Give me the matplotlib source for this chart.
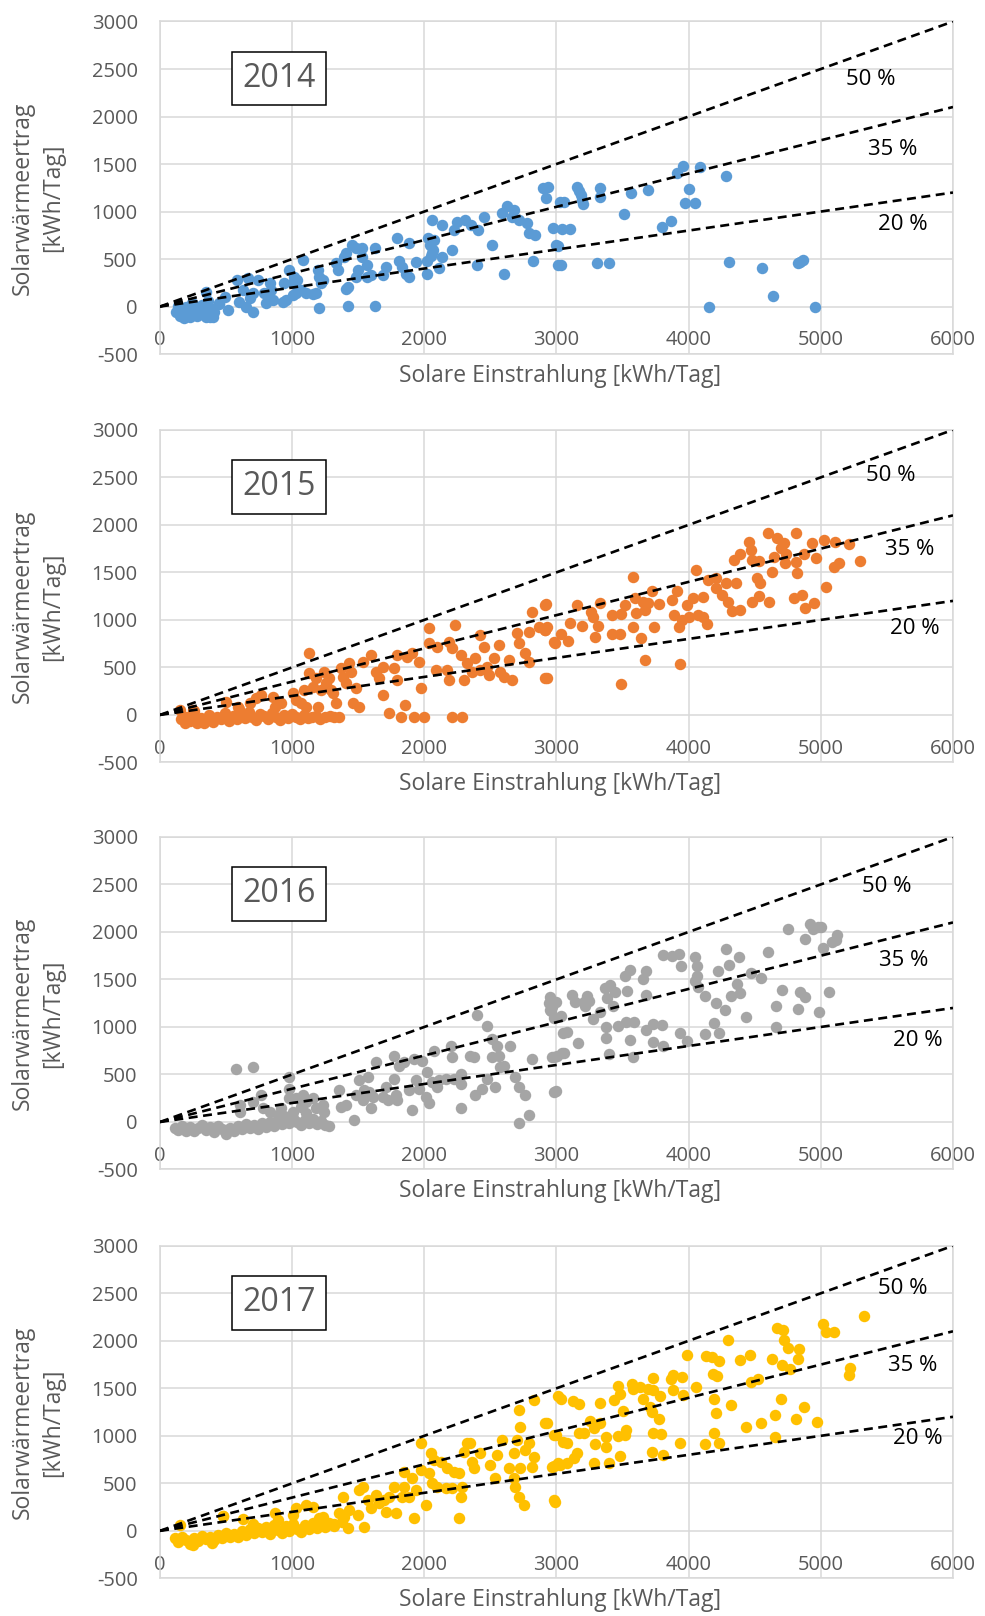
import numpy as np
import matplotlib.pyplot as plt

plt.rcParams['font.family'] = ['Open Sans', 'DejaVu Sans']
plt.rcParams['axes.unicode_minus'] = False

years = ['2014', '2015', '2016', '2017']
colors = ['#5B9BD5', '#ED7D31', '#A5A5A5', '#FFC000']
rates = [0.50, 0.35, 0.20]
rate_labels = ['50 %', '35 %', '20 %']

# daily values: solar irradiation (x) vs. solar heat yield (y), kWh/day
x14 = [125, 150, 170, 190, 210, 230, 250, 270, 290, 310, 330, 350, 380, 410, 140, 200, 260, 320, 180, 240,
       300, 360, 400, 450, 160, 220, 280, 340,
       350, 450, 490, 515, 375, 580, 600, 628, 650, 665, 680, 705, 705, 740, 790, 805, 815, 830, 840, 855,
       930, 940, 955, 980, 1005, 1005, 1015, 1030, 1040, 1070, 1080, 1105, 1155, 1180, 1195, 1205, 1205,
       1220, 1230, 1330, 1345, 1395, 1405, 1405, 1420, 1425, 1455, 1480, 1480, 1495, 1530, 1530, 1570,
       1570, 1595, 1625, 1630, 1685, 1710, 1795, 1810, 1835, 1860, 1885, 1885, 1935, 2020, 2030, 2045,
       2055, 2060, 2065, 2070, 2050, 2020, 2110, 2135, 2135, 2210, 2225, 2250, 2310, 2350, 2400, 2410,
       2450, 2510, 2590, 2600, 2625, 2665, 2675, 2715, 2775, 2790, 2825, 2840, 2900, 2920, 2935, 2975,
       3000, 3015, 3030, 3040, 3058, 3100, 3033, 3015, 3158, 3170, 3183, 3195, 3203, 3308, 3328, 3333,
       3400, 3508, 3565, 3690, 3800, 3870, 3915, 3958, 3970, 4000, 4045, 4088, 4153, 4283, 4303, 4558,
       4638, 4828, 4845, 4865, 4953]
y14 = [-60, -100, -30, -80, -20, -110, -50, -90, -10, -70, -40, -115, -20, -60, 10, -5, -30, 20, -120, 40,
       -80, 60, -105, 30, -50, -70, -100, -60,
       158, 35, 105, -35, -105, 281, 53, 175, 0, 298, 88, 140, -53, 281, 140, 35, 105, 246, 175, 70,
       53, 246, 70, 386, 246, 123, 316, 140, 281, 175, 491, 147, 130, 140, 386, 316, -18,
       246, 281, 456, 386, 526, 561, 182, 210, 7, 649, 614, 316, 386, 614, 526, 439,
       316, 333, 7, 614, 333, 421, 719, 475, 421, 340, 315, 667, 474, 480, 720, 650,
       560, 912, 600, 700, 530, 340, 410, 526, 860, 596, 807, 895, 912, 860, 439, 807,
       940, 649, 982, 340, 1060, 947, 1018, 912, 877, 772, 480, 754, 1245, 1140, 1263, 825,
       649, 439, 1105, 814, 1105, 814, 439, 642, 1263, 1221, 1175, 1123, 1081, 456, 1158, 1246,
       456, 975, 1200, 1228, 832, 905, 1404, 1481, 1095, 1235, 1095, 1467, 0, 1376, 474, 404,
       116, 456, 474, 491, 0]

x15 = [160, 200, 230, 250, 280, 310, 340, 370, 400, 430, 460, 490, 520, 550, 580, 610, 640, 670, 700, 730,
       760, 790, 820, 850, 880, 910, 940, 970, 1000, 1030, 1060, 1090, 1120, 1150, 1180, 1210, 1250, 1290,
       1320, 1357, 190, 330, 260, 600, 150, 251,
       503, 591, 679, 729, 766, 854, 867, 917, 1005, 1030, 1068, 1093, 1106, 1131, 1131, 1156, 1181, 1194,
       1219, 1244, 1257, 1282, 1294, 1307, 1332, 1370, 1382, 1407, 1432, 1445, 1458, 1483, 1508, 1533,
       1596, 1634, 1659, 1684, 1684, 1734, 1772, 1797, 1797, 1822, 1855, 1872, 1910, 1922, 1960, 1972,
       1997, 2036, 2036, 2098, 2086, 2174, 2186, 2186, 2211, 2236, 2211, 2274, 2287, 2299, 2324, 2362,
       2387, 2424, 2424, 2450, 2475, 2487, 2525, 2563, 2576, 2601, 2639, 2664, 2702, 2714, 2764, 2789,
       2789, 2814, 2865, 2915, 2915, 2915, 2978,
       2920, 2925, 2912, 2930, 2987, 3038, 3088, 3106, 3156, 3193, 3264, 3276, 3294, 3314, 3327, 3422,
       3422, 3485, 3478, 3485, 3515, 3580, 3580, 3596, 3603, 3640, 3653, 3666, 3666, 3690, 3720, 3736,
       3779, 3875, 3892, 3912, 3930, 3935, 3950, 3985, 4005, 4035, 4055, 4068, 4106, 4111, 4138, 4150,
       4206, 4206, 4250, 4282, 4294, 4326, 4344, 4359, 4392, 4392, 4460, 4470, 4476, 4476, 4514, 4530,
       4532, 4538, 4601, 4608, 4633, 4649, 4671, 4696, 4721, 4729, 4734, 4796, 4810, 4814, 4820, 4860,
       4872, 4877, 4930, 4947, 4960, 5023, 5040, 5098, 5110, 5136, 5211, 5294]
y15 = [-40, -20, -60, 10, -80, -30, -50, 0, -70, -20, -40, 20, -60, -10, -40, 0, -30, 30, -20, -50,
       10, -10, -40, 20, -20, -50, 0, -30, 10, -20, -40, 0, -30, -20, -10, -40, -20, -10,
       -20, -20, -90, -80, 40, 60, 53, 53,
       140, 88, 123, 175, 211, 193, 88, 123, 228, 158, 123, 263, 88, 649, 439, 298, 386, 88,
       263, 456, 333, 386, 263, 228, 123, 491, 404, 333, 544, 456, 123, 281, 88, 561,
       632, 456, 386, 509, 211, 18, 491, 368, 632, -18, 105, 614, 649, -18, 561, 281,
       -18, 912, 754, 719, 474, 474, 368, 772, -18, 947, 702, 632, -18, 368, 544, 456,
       596, 474, 842, 719, 509, 421, 596, 737, 456, 404, 579, 368, 860, 754, 649, 877,
       561, 1088, 930, 1158, 895, 386, 772,
       1168, 930, 895, 386, 761, 853, 782, 972, 1158, 940, 1088, 1028, 825, 940, 1182, 1053,
       853, 1060, 853, 326, 1158, 1456, 930, 1228, 1070, 807, 1193, 579, 1105, 1175, 1309, 930,
       1165, 1210, 1053, 1309, 930, 537, 1000, 1158, 1035, 1228, 1526, 1053, 1035, 1239, 958, 1421,
       1439, 1333, 1263, 1393, 1193, 1098, 1632, 1386, 1105, 1695, 1825, 1737, 1632, 1193, 1439, 1625,
       1253, 1386, 1912, 1193, 1509, 1660, 1860, 1755, 1814, 1597, 1695, 1228, 1614, 1912, 1491, 1263,
       1695, 1123, 1814, 1182, 1649, 1842, 1351, 1554, 1818, 1604, 1797, 1621]

x16 = [110, 140, 170, 200, 230, 260, 290, 320, 350, 380, 410, 440, 470, 500, 530, 560, 590, 620, 650, 680,
       710, 740, 770, 800, 830, 860, 890, 920, 950, 980, 1010, 1040, 1070, 1100, 1130, 1160, 1190, 1220,
       1250, 1280,
       578, 704, 603, 603, 704, 766, 779, 829, 892, 980, 980, 980, 1030, 1081, 1106, 1156, 1181, 1231,
       1244, 1005, 1068, 1106, 917, 942, 1357, 1370, 1407, 1470, 1483, 1508, 1533, 1546, 1571, 1584,
       1596, 1609, 1634, 1684, 1709, 1722, 1772, 1772, 1785, 1797, 1810, 1847, 1885, 1910, 1922, 1935,
       1960, 1985, 2010, 2023, 2036, 2061, 2074, 2098, 2111, 2161, 2199, 2211, 2224, 2274, 2274, 2274,
       2349, 2374, 2400, 2387, 2437, 2475, 2475, 2512, 2512, 2538, 2550, 2563, 2576, 2601, 2651, 2689,
       2714, 2764, 2714, 2789, 2814, 2940, 2953, 2978, 2965, 2978, 3003, 3040, 3053,
       2950, 2967, 3000, 2955, 3035, 3080, 3161, 2980, 3055, 2997, 3118, 3143, 3206, 3231, 3243, 3218,
       3276, 3331, 3369, 3381, 3406, 3444, 3431, 3374, 3374, 3394, 3462, 3520, 3532, 3527, 3557, 3587,
       3557, 3577, 3657, 3678, 3678, 3678, 3733, 3728, 3796, 3803, 3803, 3871, 3929, 3941, 3934, 3984,
       4047, 4065, 4060, 4047, 4067, 4127, 4127, 4190, 4210, 4230, 4222, 4278, 4283, 4303, 4320, 4365,
       4382, 4390, 4432, 4470, 4550, 4603, 4663, 4663, 4709, 4751, 4829, 4839, 4879, 4884, 4919, 4944,
       4975, 5005, 4988, 5018, 5063, 5088, 5113, 5126]
y16 = [-60, -80, -40, -90, -50, -100, -60, -30, -80, -50, -110, -40, -70, -130, -60, -90, -40, -70, -20, -60,
       -30, -70, -10, -50, 0, -40, 20, -20, 30, -10, 40, 0, -30, 20, -10, 30, -20, 10,
       -30, -40,
       559, 576, 179, 110, 214, 283, 145, 110, 76, 473, 352, 248, 248, 283, 214, 248, 145, 179,
       110, 110, 162, 93, 145, 59, 335, 162, 179, 24, 283, 438, 231, 335, 473, 317,
       145, 266, 628, 266, 369, 231, 455, 697, 283, 231, 593, 628, 335, 128, 662, 438,
       352, 645, 266, 524, 197, 421, 749, 369, 438, 455, 800, 680, 455, 145, 507, 404,
       697, 680, 1128, 283, 352, 1007, 455, 869, 680, 369, 800, 697, 576, 593, 800, 473,
       369, 283, -10, 76, 662, 1249, 1180, 1094, 680, 317, 697, 731, 938,
       1312, 1207, 1260, 1172, 1112, 944, 832, 682, 727, 321, 1336, 1259, 1266, 1329, 1277, 1224,
       1084, 1154, 1406, 1301, 1441, 1364, 1217, 997, 881, 717, 1014, 1539, 1382, 1056, 1602, 1049,
       864, 689, 1504, 1592, 1336, 969, 1032, 839, 1025, 804, 1756, 1742, 1767, 1644, 937, 857,
       1732, 1644, 1539, 1487, 1417, 1322, 927, 1039, 1249, 937, 1592, 1182, 1819, 1651, 1329, 1452,
       1732, 1357, 1109, 1567, 1511, 1784, 1224, 1004, 1392, 2036, 1189, 1371, 1931, 1312, 2082, 2036,
       2057, 2047, 1161, 1826, 1364, 1889, 1917, 1966]

x17 = [110, 140, 170, 200, 230, 260, 290, 320, 350, 380, 410, 440, 470, 500, 530, 560, 590, 620, 650, 680,
       710, 740, 770, 800, 830, 860, 890, 920, 950, 980, 1010, 1040, 1070, 1100, 1130, 1160, 1190, 1220,
       1250, 1280, 1320, 1380, 1420, 250, 390, 480,
       151, 477, 628, 704, 867, 892, 1005, 1030, 1106, 1156, 1206, 1231, 1319, 1357, 1382, 1395, 1432,
       1495, 1508, 1533, 1546, 1571, 1596, 1634, 1659, 1696, 1709, 1734, 1772, 1785, 1835, 1847, 1847,
       1885, 1910, 1922, 1935, 1972, 1972, 2010, 2036, 2048, 2061, 2074, 2098, 2124, 2161, 2174, 2211,
       2224, 2261, 2261, 2274, 2287, 2299, 2324, 2349, 2362, 2374, 2424, 2500, 2538, 2550, 2588, 2639,
       2677, 2677, 2689, 2714, 2714, 2727, 2727, 2752, 2702, 2764, 2789, 2814, 2827, 2827, 2915, 2978,
       2978, 2965, 3015, 3015, 3053,
       2930, 3000, 3035, 3080, 3125, 3168, 3156, 2980, 3030, 3080, 3131, 2992, 3168, 3206, 3256, 3281,
       3326, 3331, 3294, 3374, 3374, 3281, 3394, 3437, 3462, 3469, 3482, 3500, 3477, 3519, 3527, 3570,
       3582, 3632, 3657, 3695, 3733, 3733, 3708, 3720, 3783, 3778, 3733, 3788, 3720, 3803, 3866, 3883,
       3883, 3946, 3959, 3934, 3990, 4055, 4130, 4178, 4231, 4185, 4218, 4190, 4210, 4190, 4231, 4127,
       4298, 4323, 4386, 4461, 4436, 4473, 4524, 4544, 4629, 4654, 4654, 4669, 4712, 4707, 4724, 4749,
       4699, 4769, 4828, 4835, 4815, 4875, 4970, 5020, 5038, 5100, 5211, 5224, 5324]
y17 = [-80, -120, -60, -100, -140, -80, -110, -50, -90, -60, -100, -40, -80, -20, -60, -30, -70, 0, -40, 20,
       -20, 30, -10, 40, -30, 60, 10, -20, 50, 0, 70, 20, -10, 60, 20, 80, 30, 100,
       40, 80, 50, 90, 30, -150, -130, 160,
       60, 155, 120, 77, 190, 113, 165, 236, 271, 253, 130, 148, 77, 183, 359, 148, 218,
       165, 429, 465, 42, 324, 236, 377, 289, 324, 201, 359, 465, 183, 359, 465, 623,
       359, 553, 130, 429, 922, 641, 271, 605, 817, 500, 746, 465, 729, 447, 658, 447,
       623, 605, 130, 359, 465, 834, 922, 922, 729, 658, 817, 693, 553, 799, 957, 658,
       553, 817, 465, 359, 1274, 1098, 658, 271, 957, 852, 922, 676, 781, 1380, 1133, 324,
       1010, 676, 711, 1415, 940,
       1130, 1007, 1392, 927, 1364, 1340, 822, 682, 692, 717, 762, 307, 1032, 1032, 1154, 1077,
       1347, 1137, 909, 878, 990, 710, 710, 1382, 1000, 1522, 1438, 1263, 787, 1007, 1060, 1550,
       1497, 1515, 1392, 1497, 1609, 1487, 1305, 1252, 1417, 1182, 1025, 1018, 832, 797, 1602, 1644,
       1487, 1620, 1427, 927, 1854, 1515, 1837, 1830, 1788, 1648, 1627, 1392, 1235, 1032, 927, 913,
       2012, 1322, 1802, 1847, 1095, 1567, 1602, 1137, 1812, 1217, 990, 2138, 2110, 1749, 2012, 1924,
       1392, 1700, 1812, 1917, 1182, 1305, 1147, 2173, 2092, 2092, 1637, 1714, 2257]

xs_all = [x14, x15, x16, x17]
ys_all = [y14, y15, y16, y17]

# where the percentage labels sit in each panel (data coords)
rate_label_xy = [
    [(5380, 2390), (5545, 1650), (5620, 860)],
    [(5530, 2515), (5675, 1745), (5710, 910)],
    [(5500, 2475), (5630, 1695), (5735, 855)],
    [(5620, 2555), (5695, 1745), (5735, 975)],
]

bottoms = [0.7809, 0.5282, 0.2763, 0.0233]
grey = '#595959'
grid_c = '#d9d9d9'

fig = plt.figure(figsize=(9.85, 16.16), dpi=100)

for i in range(4):
    ax = fig.add_axes([0.1624, bottoms[i], 0.8051, 0.2058])
    ax.set_xlim(0, 6000)
    ax.set_ylim(-500, 3000)
    ax.set_xticks(np.arange(0, 6001, 1000))
    ax.set_yticks(np.arange(-500, 3001, 500))
    ax.grid(True, color=grid_c, lw=1.1)
    ax.set_axisbelow(True)
    for s in ax.spines.values():
        s.set_color(grid_c)
        s.set_linewidth(1.1)
    ax.tick_params(length=0, labelsize=14.5, labelcolor=grey)
    ax.tick_params(axis='y', pad=16)
    ax.tick_params(axis='x', pad=-17)

    ax.scatter(xs_all[i], ys_all[i], s=68, color=colors[i], linewidths=0, zorder=3)

    xx = np.array([0, 6000])
    for r, lab, (lx, ly) in zip(rates, rate_labels, rate_label_xy[i]):
        ax.plot(xx, r * xx, color='black', lw=1.9, ls=(0, (3.4, 2.1)), zorder=4)
        ax.text(lx, ly, lab, fontsize=16, ha='center', va='center', color='black')

    ax.text(900, 2400, years[i], fontsize=23, color=grey, ha='center', va='center', zorder=5,
            bbox=dict(boxstyle='square,pad=0.32', fc='white', ec='black', lw=1.1))

    ax.set_xlabel('Solare Einstrahlung [kWh/Tag]', fontsize=16.5, color=grey, va='center')
    ax.xaxis.set_label_coords(0.505, -0.066)
    ax.set_ylabel('Solarwärmeertrag\n[kWh/Tag]', fontsize=16.5, color=grey, va='center',
                  linespacing=1.35)
    ax.yaxis.set_label_coords(-0.154, 0.469)

plt.savefig('out.png', dpi=100)
